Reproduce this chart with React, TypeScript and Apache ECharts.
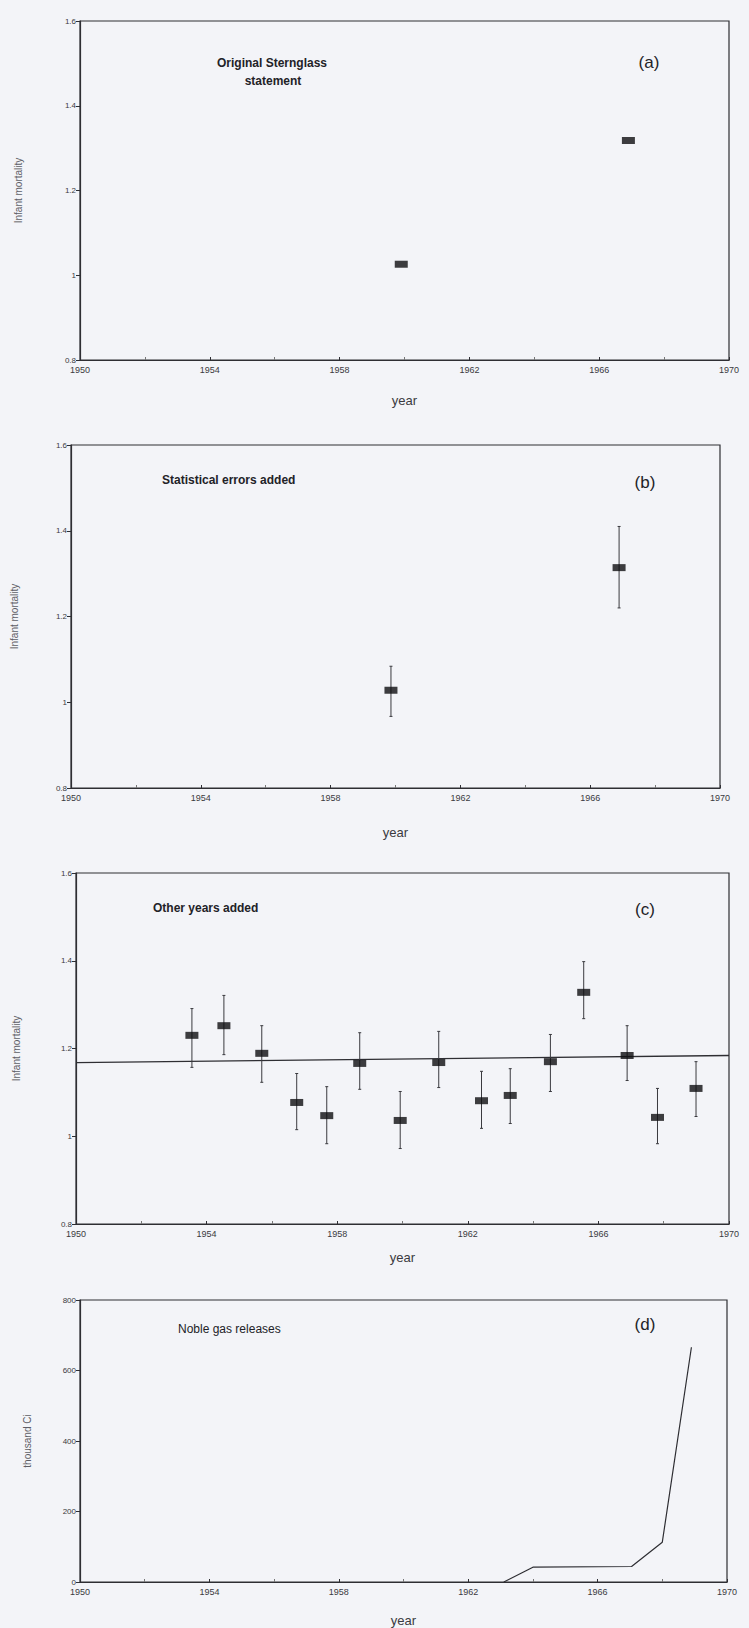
import React, { useEffect, useRef } from "react";
import * as echarts from "echarts";

// ---------- data ----------
const xTicksStart = 1950;
const xTicksEnd = 1970;

// (a) Original Sternglass statement
const aYears = [1959.9, 1966.9];
const aValues = [1.026, 1.318];

// (b) Statistical errors added
const bYears = [1959.86, 1966.89];
const bValues = [1.028, 1.314];
const bLow = [0.967, 1.22];
const bHigh = [1.084, 1.41];

// (c) Other years added
const cYears = [1953.55, 1954.53, 1955.69, 1956.76, 1957.68, 1958.69, 1959.93, 1961.11, 1962.42, 1963.3, 1964.53, 1965.55, 1966.88, 1967.81, 1968.99];
const cValues = [1.23, 1.252, 1.189, 1.077, 1.047, 1.166, 1.036, 1.168, 1.081, 1.093, 1.17, 1.328, 1.184, 1.043, 1.109];
const cLow = [1.157, 1.186, 1.123, 1.015, 0.983, 1.107, 0.972, 1.111, 1.018, 1.029, 1.102, 1.268, 1.127, 0.983, 1.045];
const cHigh = [1.291, 1.321, 1.252, 1.143, 1.113, 1.236, 1.102, 1.239, 1.148, 1.154, 1.232, 1.398, 1.252, 1.109, 1.17];
const cFitYears = [1950, 1970];
const cFitValues = [1.168, 1.184];

// (d) Noble gas releases
const dYears = [1963.1, 1964.0, 1967.05, 1968.0, 1968.9];
const dValues = [0, 42, 44, 113, 666];

const FONT = "'Liberation Sans', Arial, sans-serif";
const INK = "#2e2e33";
const BG = "#f3f4f8";

export default function App() {
  const ref = useRef<HTMLDivElement>(null);

  useEffect(() => {
    if (!ref.current) return;
    const chart = echarts.init(ref.current, undefined, { renderer: "svg" });

    const grids = [
      { left: 80, top: 21, width: 649, height: 339 },
      { left: 71, top: 445, width: 649, height: 343 },
      { left: 76, top: 873, width: 653, height: 351 },
      { left: 80, top: 1300, width: 647, height: 285 },
    ].map((g) => ({ ...g, show: true, borderColor: INK, borderWidth: 1.2, backgroundColor: "transparent" }));

    const xNameGaps = [34, 38, 27, 32];
    const yNameGaps = [57, 52, 55, 48];

    const xAxes = grids.map((_, i) => ({
      type: "value",
      gridIndex: i,
      min: xTicksStart,
      max: xTicksEnd,
      interval: 4,
      name: "year",
      nameLocation: "middle",
      nameGap: xNameGaps[i],
      nameTextStyle: { fontFamily: FONT, fontSize: 13, color: "#3a3a40" },
      axisLine: { show: true, lineStyle: { color: INK, width: 1.2 } },
      axisTick: { show: true, inside: true, length: 3, lineStyle: { color: INK } },
      minorTick: { show: true, splitNumber: 2, length: 3, lineStyle: { color: "#777" } },
      splitLine: { show: false },
      axisLabel: { fontFamily: FONT, fontSize: 9, color: "#3a3a40", margin: 5, formatter: (v: number) => String(v) },
    }));

    const yAxes = grids.map((_, i) => {
      const isD = i === 3;
      return {
        type: "value",
        gridIndex: i,
        min: isD ? 0 : 0.8,
        max: isD ? 800 : 1.6,
        interval: isD ? 200 : 0.2,
        name: isD ? "thousand Ci" : "Infant mortality",
        nameLocation: "middle",
        nameGap: yNameGaps[i],
        nameRotate: 90,
        nameTextStyle: { fontFamily: FONT, fontSize: 10, color: "#5e5e66" },
        axisLine: { show: true, lineStyle: { color: INK, width: 1.2 } },
        axisTick: { show: true, length: 4, lineStyle: { color: INK } },
        splitLine: { show: false },
        axisLabel: {
          fontFamily: FONT,
          fontSize: 8,
          color: "#3a3a40",
          margin: 4,
          formatter: (v: number) => (isD ? String(Math.round(v)) : String(Math.round(v * 10) / 10)),
        },
      };
    });

    const errorBars = (xi: number, years: number[], lo: number[], hi: number[]) => ({
      type: "custom",
      xAxisIndex: xi,
      yAxisIndex: xi,
      data: years.map((y, k) => [y, lo[k], hi[k]]),
      encode: { x: 0, y: [1, 2] },
      renderItem: (params: any, api: any) => {
        const x = api.value(0);
        const p1 = api.coord([x, api.value(1)]);
        const p2 = api.coord([x, api.value(2)]);
        const st = { stroke: "#3a3a3f", lineWidth: 1 };
        return {
          type: "group",
          children: [
            { type: "line", shape: { x1: p1[0], y1: p1[1], x2: p2[0], y2: p2[1] }, style: st },
            { type: "line", shape: { x1: p1[0] - 1.5, y1: p1[1], x2: p1[0] + 1.5, y2: p1[1] }, style: st },
            { type: "line", shape: { x1: p2[0] - 1.5, y1: p2[1], x2: p2[0] + 1.5, y2: p2[1] }, style: st },
          ],
        };
      },
      silent: true,
      z: 2,
    });

    const markers = (xi: number, years: number[], vals: number[]) => ({
      type: "scatter",
      xAxisIndex: xi,
      yAxisIndex: xi,
      data: years.map((y, k) => [y, vals[k]]),
      symbol: "rect",
      symbolSize: [13, 7],
      itemStyle: { color: "#0e0e10" },
      silent: true,
      z: 3,
    });

    const textStyle = (size: number, weight: any) => ({ fontFamily: FONT, fontSize: size, fontWeight: weight, fill: "#222227" });

    const option: any = {
      animation: false,
      backgroundColor: BG,
      grid: grids,
      xAxis: xAxes,
      yAxis: yAxes,
      series: [
        markers(0, aYears, aValues),
        errorBars(1, bYears, bLow, bHigh),
        markers(1, bYears, bValues),
        {
          type: "line",
          xAxisIndex: 2,
          yAxisIndex: 2,
          data: cFitYears.map((y, k) => [y, cFitValues[k]]),
          symbol: "none",
          lineStyle: { color: INK, width: 1.3 },
          silent: true,
          z: 1,
        },
        errorBars(2, cYears, cLow, cHigh),
        markers(2, cYears, cValues),
        {
          type: "line",
          xAxisIndex: 3,
          yAxisIndex: 3,
          data: dYears.map((y, k) => [y, dValues[k]]),
          symbol: "none",
          lineStyle: { color: INK, width: 1.2 },
          silent: true,
        },
      ],
      graphic: [
        { type: "text", x: 272, y: 63, style: { text: "Original Sternglass", ...textStyle(12, "bold"), align: "center", verticalAlign: "middle" } },
        { type: "text", x: 273, y: 81, style: { text: "statement", ...textStyle(12, "bold"), align: "center", verticalAlign: "middle" } },
        { type: "text", x: 649, y: 62, style: { text: "(a)", ...textStyle(17, "normal"), align: "center", verticalAlign: "middle" } },
        { type: "text", x: 162, y: 480, style: { text: "Statistical errors added", ...textStyle(12, "bold"), align: "left", verticalAlign: "middle" } },
        { type: "text", x: 645, y: 482, style: { text: "(b)", ...textStyle(17, "normal"), align: "center", verticalAlign: "middle" } },
        { type: "text", x: 153, y: 908, style: { text: "Other years added", ...textStyle(12, "bold"), align: "left", verticalAlign: "middle" } },
        { type: "text", x: 645, y: 909, style: { text: "(c)", ...textStyle(17, "normal"), align: "center", verticalAlign: "middle" } },
        { type: "text", x: 178, y: 1329, style: { text: "Noble gas releases", ...textStyle(12, "normal"), align: "left", verticalAlign: "middle" } },
        { type: "text", x: 645, y: 1324, style: { text: "(d)", ...textStyle(17, "normal"), align: "center", verticalAlign: "middle" } },
      ],
    };

    chart.setOption(option);
    return () => chart.dispose();
  }, []);

  return (
    <div
      ref={ref}
      style={{ position: "absolute", left: 0, top: 0, width: 749, height: 1628, background: BG }}
    />
  );
}
